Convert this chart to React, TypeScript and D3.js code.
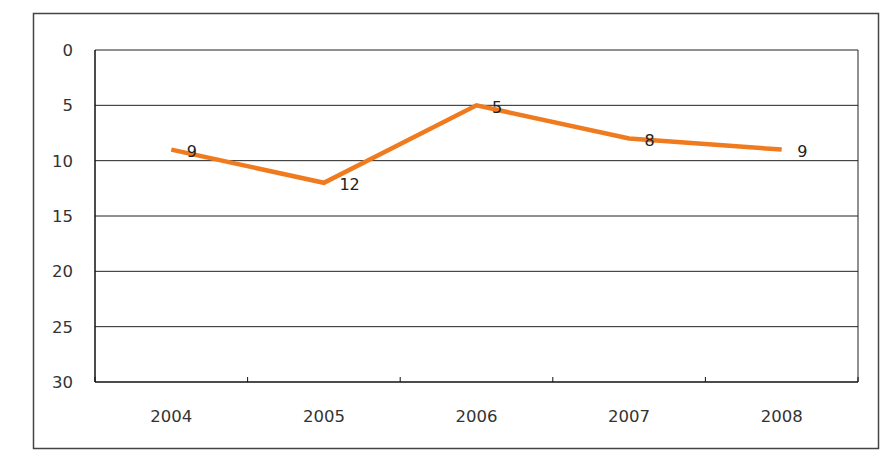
import React from "react";
import * as d3 from "d3";

const years = ["2004", "2005", "2006", "2007", "2008"];
const values = [9, 12, 5, 8, 9];
const yTicks = [0, 5, 10, 15, 20, 25, 30];

export default function App() {
  const W = 895, H = 462;
  const left = 95, right = 858, top = 50, bottom = 382;
  const x = d3.scaleBand<string>().domain(years).range([left, right]);
  const y = d3.scaleLinear().domain([0, 30]).range([top, bottom]);
  const line = d3
    .line<number>()
    .x((_, i) => (x(years[i]) as number) + x.bandwidth() / 2)
    .y((d) => y(d));
  const font = "'DejaVu Sans', sans-serif";
  const boundaries = years.map((yr) => x(yr) as number).concat([right]);
  return (
    <svg width={W} height={H} style={{ position: "absolute", left: 0, top: 0, background: "#fff" }}>
      <rect x={33.5} y={13.5} width={845} height={435} fill="#fff" stroke="#444" strokeWidth={1.5} />
      {yTicks.map((t) => (
        <g key={t}>
          {t > 0 && t < 30 && (
            <line x1={left} x2={right} y1={y(t)} y2={y(t)} stroke="#222" strokeWidth={1} />
          )}
          <text x={73} y={y(t)} dy="0.36em" textAnchor="end" fontFamily={font} fontSize={16.5} fill="#333">
            {t}
          </text>
        </g>
      ))}
      <line x1={left} x2={right} y1={top} y2={top} stroke="#222" strokeWidth={1} />
      <line x1={right} x2={right} y1={top} y2={bottom} stroke="#222" strokeWidth={1} />
      <line x1={left} x2={left} y1={top} y2={bottom} stroke="#111" strokeWidth={1.5} />
      <line x1={left} x2={right} y1={bottom} y2={bottom} stroke="#111" strokeWidth={1.5} />
      {boundaries.map((b, i) => (
        <line key={i} x1={b} x2={b} y1={bottom - 5} y2={bottom} stroke="#111" strokeWidth={1} />
      ))}
      {years.map((yr) => (
        <text
          key={yr}
          x={(x(yr) as number) + x.bandwidth() / 2}
          y={416}
          dy="0.36em"
          textAnchor="middle"
          fontFamily={font}
          fontSize={16.5}
          fill="#333"
        >
          {yr}
        </text>
      ))}
      <path d={line(values) || ""} fill="none" stroke="#F07A1E" strokeWidth={4.5} strokeLinejoin="miter" />
      {values.map((v, i) => (
        <text
          key={i}
          x={(x(years[i]) as number) + x.bandwidth() / 2 + 15.5}
          y={y(v) + 1.5}
          dy="0.36em"
          textAnchor="start"
          fontFamily={font}
          fontSize={16}
          fill="#222"
        >
          {v}
        </text>
      ))}
    </svg>
  );
}
